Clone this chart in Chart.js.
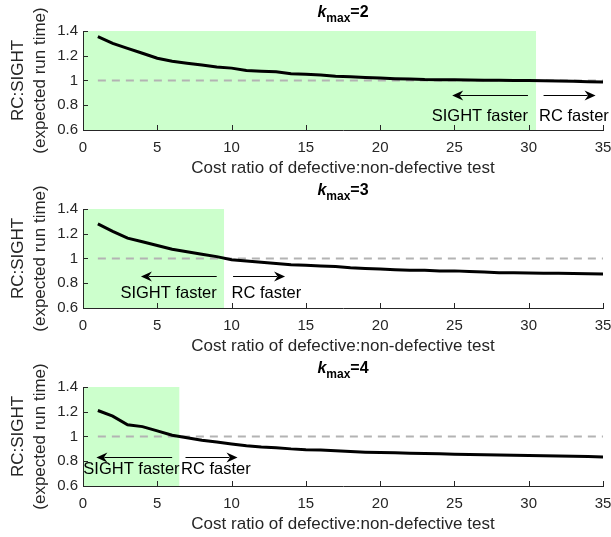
<!DOCTYPE html>
<html>
<head>
<meta charset="utf-8">
<script src="https://cdn.jsdelivr.net/npm/chart.js@4.4.1/dist/chart.umd.min.js"></script>
<style>
  html, body { margin: 0; padding: 0; background: #fff; }
  #fig { position: relative; width: 611px; height: 537px; }
  .panel { position: absolute; left: 0; width: 611px; height: 179px; }
</style>
</head>
<body>
<div id="fig">
  <div class="panel" style="top:0px"><canvas id="p0"></canvas></div>
  <div class="panel" style="top:178px"><canvas id="p1"></canvas></div>
  <div class="panel" style="top:356px"><canvas id="p2"></canvas></div>
</div>
<script>
// Data
const costRatio = [1, 2, 3, 4, 5, 6, 7, 8, 9, 10, 11, 12, 13, 14, 15, 16, 17, 18,
                   19, 20, 21, 22, 23, 24, 25, 26, 27, 28, 29, 30, 31, 32, 33, 34, 35];
const ratioK2 = [1.355, 1.30, 1.26, 1.22, 1.18, 1.155, 1.14, 1.125, 1.11, 1.10,
                 1.08, 1.075, 1.07, 1.055, 1.05, 1.045, 1.035, 1.03, 1.025, 1.02,
                 1.015, 1.012, 1.008, 1.007, 1.006, 1.004, 1.003, 1.002, 1.0, 1.0,
                 0.998, 0.995, 0.993, 0.99, 0.988];
const ratioK3 = [1.28, 1.22, 1.165, 1.135, 1.105, 1.075, 1.055, 1.035, 1.015, 0.99,
                 0.98, 0.97, 0.96, 0.95, 0.945, 0.94, 0.935, 0.925, 0.92, 0.915,
                 0.91, 0.905, 0.905, 0.9, 0.9, 0.895, 0.89, 0.885, 0.885, 0.882,
                 0.88, 0.88, 0.878, 0.876, 0.875];
const ratioK4 = [1.21, 1.165, 1.095, 1.08, 1.045, 1.01, 0.99, 0.97, 0.955, 0.94,
                 0.925, 0.915, 0.91, 0.9, 0.893, 0.89, 0.885, 0.878, 0.873, 0.87,
                 0.868, 0.865, 0.862, 0.86, 0.857, 0.855, 0.853, 0.851, 0.849, 0.847,
                 0.845, 0.843, 0.84, 0.838, 0.835];
const kmaxValues = [2, 3, 4];
const crossover = [30.5, 9.5, 6.5];   // where SIGHT stops being faster
const refLine = [1, 35];              // dashed y=1 line spans these x
const refLevel = 1;
const xTicks = [0, 5, 10, 15, 20, 25, 30, 35];
const yTicks = [0.6, 0.8, 1, 1.2, 1.4];

const series = [ratioK2, ratioK3, ratioK4];

// arrow / label placement in data units, one per panel
const notes = [
  { arrowY: 0.885, textY: 0.71, left: [29.95, 24.85], right: [31.0, 34.5], sightEnd: 29.95, rcStart: 30.7 },
  { arrowY: 0.857, textY: 0.72, left: [9.0, 3.9],     right: [10.1, 13.6], sightEnd: 9.0,   rcStart: 10.0 },
  { arrowY: 0.836, textY: 0.73, left: [6.0, 0.9],     right: [6.9, 10.4],  sightEnd: 6.5,   rcStart: 6.6 }
];

const FONT = "'Liberation Sans', Arial, Helvetica, sans-serif";
const axisColor = '#262626';

function drawArrow(ctx, x0, x1, py) {
  const dir = x1 > x0 ? 1 : -1;
  ctx.beginPath();
  ctx.moveTo(x0, py);
  ctx.lineTo(x1 - dir * 8, py);
  ctx.stroke();
  ctx.beginPath();
  ctx.moveTo(x1, py);
  ctx.lineTo(x1 - dir * 11, py - 5);
  ctx.lineTo(x1 - dir * 7.5, py);
  ctx.lineTo(x1 - dir * 11, py + 5);
  ctx.closePath();
  ctx.fill();
}

function decorPlugin(i) {
  return {
    id: 'decor' + i,
    afterDatasetsDraw(chart) {
      const { ctx, chartArea: a, scales: { x, y } } = chart;
      const n = notes[i];
      ctx.save();
      // inward tick marks
      ctx.strokeStyle = axisColor;
      ctx.lineWidth = 1;
      ctx.beginPath();
      xTicks.forEach(v => {
        const px = Math.round(x.getPixelForValue(v)) + 0.5;
        ctx.moveTo(px, a.bottom);
        ctx.lineTo(px, a.bottom - 5);
      });
      yTicks.forEach(v => {
        const py = Math.round(y.getPixelForValue(v)) + 0.5;
        ctx.moveTo(a.left, py);
        ctx.lineTo(a.left + 5, py);
      });
      ctx.stroke();

      // arrows
      ctx.strokeStyle = '#000';
      ctx.fillStyle = '#000';
      const ay = Math.round(y.getPixelForValue(n.arrowY)) + 0.5;
      drawArrow(ctx, x.getPixelForValue(n.left[0]), x.getPixelForValue(n.left[1]), ay);
      drawArrow(ctx, x.getPixelForValue(n.right[0]), x.getPixelForValue(n.right[1]), ay);

      // labels
      ctx.font = '16.5px ' + FONT;
      ctx.textBaseline = 'middle';
      const ty = y.getPixelForValue(n.textY);
      ctx.textAlign = 'right';
      ctx.fillText('SIGHT faster', x.getPixelForValue(n.sightEnd), ty);
      ctx.textAlign = 'left';
      ctx.fillText('RC faster', x.getPixelForValue(n.rcStart), ty);
      ctx.restore();
    },
    afterDraw(chart) {
      // title: k_max = N
      const { ctx, chartArea: a } = chart;
      ctx.save();
      ctx.fillStyle = '#000';
      ctx.textBaseline = 'alphabetic';
      ctx.textAlign = 'left';
      const fk = 'italic bold 16px ' + FONT;
      const fs = 'bold 12px ' + FONT;
      const fm = 'bold 16px ' + FONT;
      const tail = '=' + kmaxValues[i];
      ctx.font = fk; const wk = ctx.measureText('k').width;
      ctx.font = fs; const ws = ctx.measureText('max').width;
      ctx.font = fm; const wt = ctx.measureText(tail).width;
      let tx = (a.left + a.right) / 2 - (wk + ws + wt) / 2;
      const base = 17;
      ctx.font = fk; ctx.fillText('k', tx, base); tx += wk;
      ctx.font = fs; ctx.fillText('max', tx, base + 5); tx += ws;
      ctx.font = fm; ctx.fillText(tail, tx, base);
      ctx.restore();
    }
  };
}

function makePanel(i) {
  const vals = series[i];
  return new Chart(document.getElementById('p' + i), {
    type: 'line',
    data: {
      datasets: [
        {
          data: costRatio.map((c, j) => ({ x: c, y: vals[j] })),
          borderColor: '#000',
          borderWidth: 3,
          pointRadius: 0,
          fill: false,
          order: 0
        },
        {
          data: refLine.map(c => ({ x: c, y: refLevel })),
          borderColor: '#b3b3b3',
          borderWidth: 2,
          borderDash: [8, 6],
          pointRadius: 0,
          fill: false,
          order: 1
        },
        {
          data: [{ x: xTicks[0], y: yTicks[yTicks.length - 1] },
                 { x: crossover[i], y: yTicks[yTicks.length - 1] }],
          borderColor: 'rgba(0,0,0,0)',
          borderWidth: 0,
          backgroundColor: '#ccffcc',
          pointRadius: 0,
          fill: 'start',
          order: 2
        }
      ]
    },
    options: {
      responsive: true,
      maintainAspectRatio: false,
      animation: false,
      events: [],
      layout: { padding: { top: 31, left: 0, right: 8, bottom: 0 } },
      plugins: { legend: { display: false }, tooltip: { enabled: false } },
      scales: {
        x: {
          type: 'linear',
          min: 0,
          max: 35,
          afterBuildTicks: s => { s.ticks = xTicks.map(v => ({ value: v })); },
          afterFit: s => { s.height = 49; s.paddingRight = 0; s.paddingLeft = 0; },
          grid: { display: false, drawTicks: false },
          border: { display: true, color: axisColor, width: 1, z: 1 },
          ticks: { color: axisColor, font: { family: FONT, size: 15 }, padding: 9, maxRotation: 0, autoSkip: false },
          title: {
            display: true,
            text: 'Cost ratio of defective:non-defective test',
            color: axisColor,
            font: { family: FONT, size: 17, lineHeight: 1.2 },
            padding: { top: 0, bottom: 0 }
          }
        },
        y: {
          min: 0.6,
          max: 1.4,
          afterBuildTicks: s => { s.ticks = yTicks.map(v => ({ value: v })); },
          afterFit: s => { s.width = 83; },
          grid: { display: false, drawTicks: false },
          border: { display: true, color: axisColor, width: 1, z: 1 },
          ticks: {
            color: axisColor,
            font: { family: FONT, size: 15 },
            padding: 5,
            callback: v => String(+v.toFixed(2))
          },
          title: {
            display: true,
            text: ['RC:SIGHT', '(expected run time)'],
            color: axisColor,
            font: { family: FONT, size: 17, lineHeight: 1.25 },
            padding: { top: 8, bottom: 0 }
          }
        }
      }
    },
    plugins: [decorPlugin(i)]
  });
}

[0, 1, 2].forEach(makePanel);
</script>
</body>
</html>
